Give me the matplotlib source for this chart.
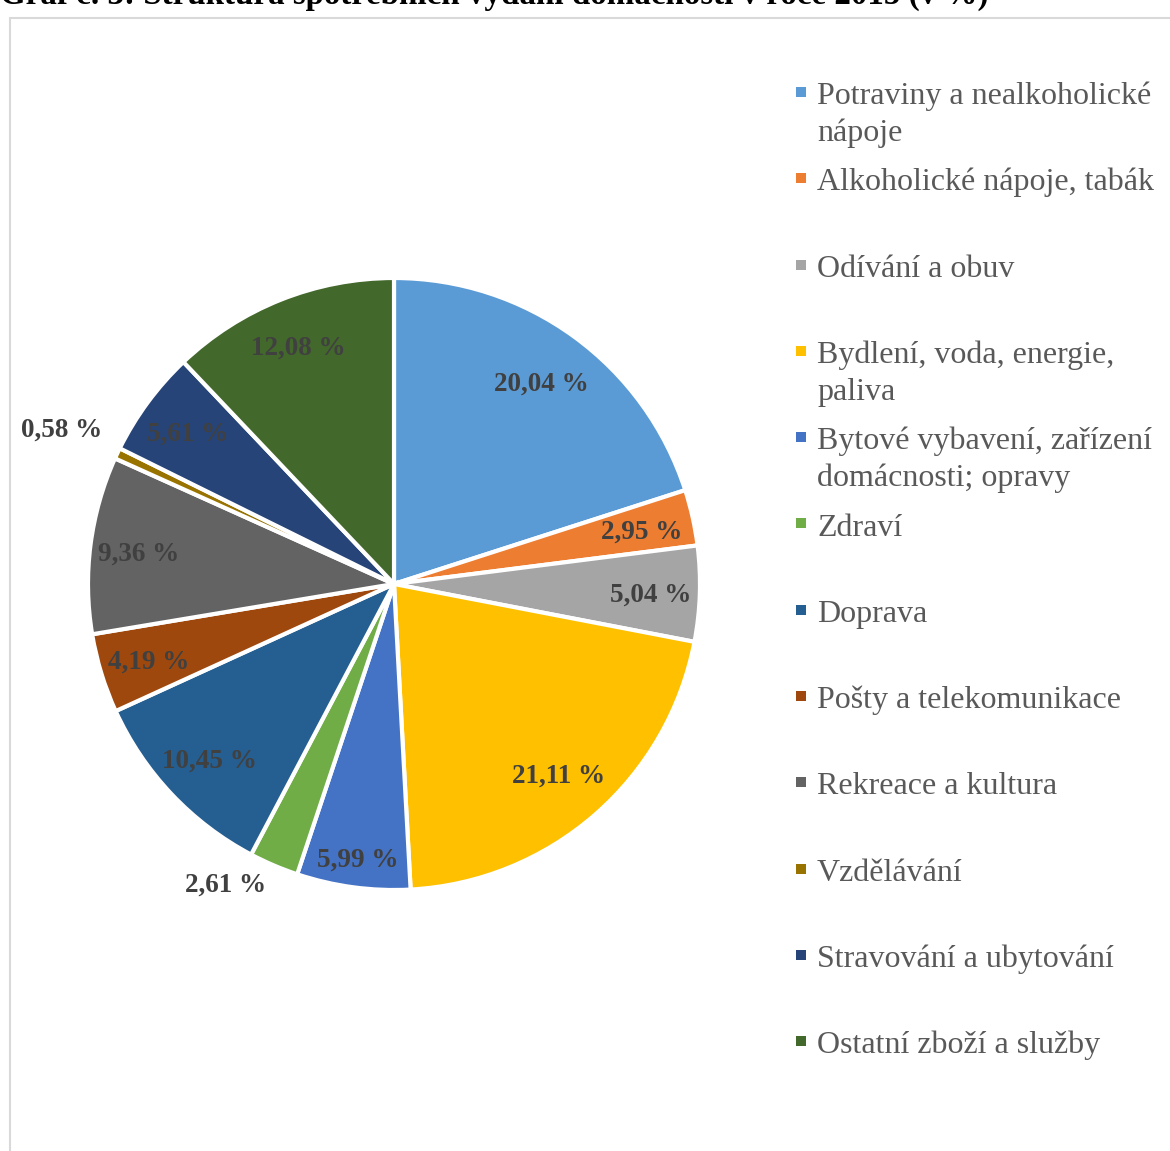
import numpy as np
import matplotlib
matplotlib.use('Agg')
import matplotlib.pyplot as plt
from matplotlib.patches import Rectangle

plt.rcParams['font.family'] = ['Liberation Serif', 'DejaVu Serif']

# data
categories = ['Potraviny a nealkoholické\nnápoje', 'Alkoholické nápoje, tabák', 'Odívání a obuv',
              'Bydlení, voda, energie,\npaliva', 'Bytové vybavení, zařízení\ndomácnosti; opravy',
              'Zdraví', 'Doprava', 'Pošty a telekomunikace', 'Rekreace a kultura',
              'Vzdělávání', 'Stravování a ubytování', 'Ostatní zboží a služby']
values = [20.04, 2.95, 5.04, 21.11, 5.99, 2.61, 10.45, 4.19, 9.36, 0.58, 5.61, 12.08]
colors = ['#5B9BD5', '#ED7D31', '#A5A5A5', '#FFC000', '#4472C4', '#70AD47',
          '#255E91', '#9E480E', '#636363', '#997300', '#264478', '#43682B']
label_r = [0.82, 0.83, 0.84, 0.82, 0.9, 1.06, 0.83, 0.84, 0.84, 1.2, 0.84, 0.84]
label_ha = ['center'] * 5 + ['right'] + ['center'] * 6

W, H = 1170, 1151
fig = plt.figure(figsize=(W / 100, H / 100), dpi=100)

# frame
fig.patches.append(Rectangle((10 / W, -0.05), 1.1, (H - 18) / H + 0.05, transform=fig.transFigure,
                             fill=False, edgecolor='#D9D9D9', linewidth=1.5))

# title (cut off at top)
fig.text(0 / W, 1 - 4 / H, 'Graf č. 3: Struktura spotřebních vydání domácností v roce 2015 (v %)',
         fontsize=23.8, fontweight='bold', ha='left', va='baseline', color='black')

cx, cy, R = 394, 584, 306
ax = fig.add_axes([(cx - R) / W, (H - cy - R) / H, 2 * R / W, 2 * R / H])
wedges, _ = ax.pie(values, colors=colors, startangle=90, counterclock=False, radius=1,
                   wedgeprops=dict(edgecolor='white', linewidth=3))
ax.set_xlim(-1, 1)
ax.set_ylim(-1, 1)
ax.set_aspect('equal')
ax.axis('off')

for w, v, r, ha in zip(wedges, values, label_r, label_ha):
    ang = np.deg2rad((w.theta1 + w.theta2) / 2)
    txt = f'{v:.2f} %'.replace('.', ',')
    ax.text(r * np.cos(ang), r * np.sin(ang), txt, ha=ha, va='center_baseline',
            fontsize=19.5, fontweight='bold', color='#404040', clip_on=False)

# legend
y0, step, lstep = 104, 86.3, 37
for i, (lab, c) in enumerate(zip(categories, colors)):
    y = y0 + i * step
    fig.patches.append(Rectangle((796 / W, 1 - (y - 7) / H), 10 / W, 10 / H,
                                 transform=fig.transFigure, facecolor=c, edgecolor='none'))
    for j, line in enumerate(lab.split('\n')):
        fig.text(817 / W, 1 - (y + j * lstep) / H, line, fontsize=23, color='#595959',
                 ha='left', va='baseline')

fig.savefig('out.png', dpi=100)
